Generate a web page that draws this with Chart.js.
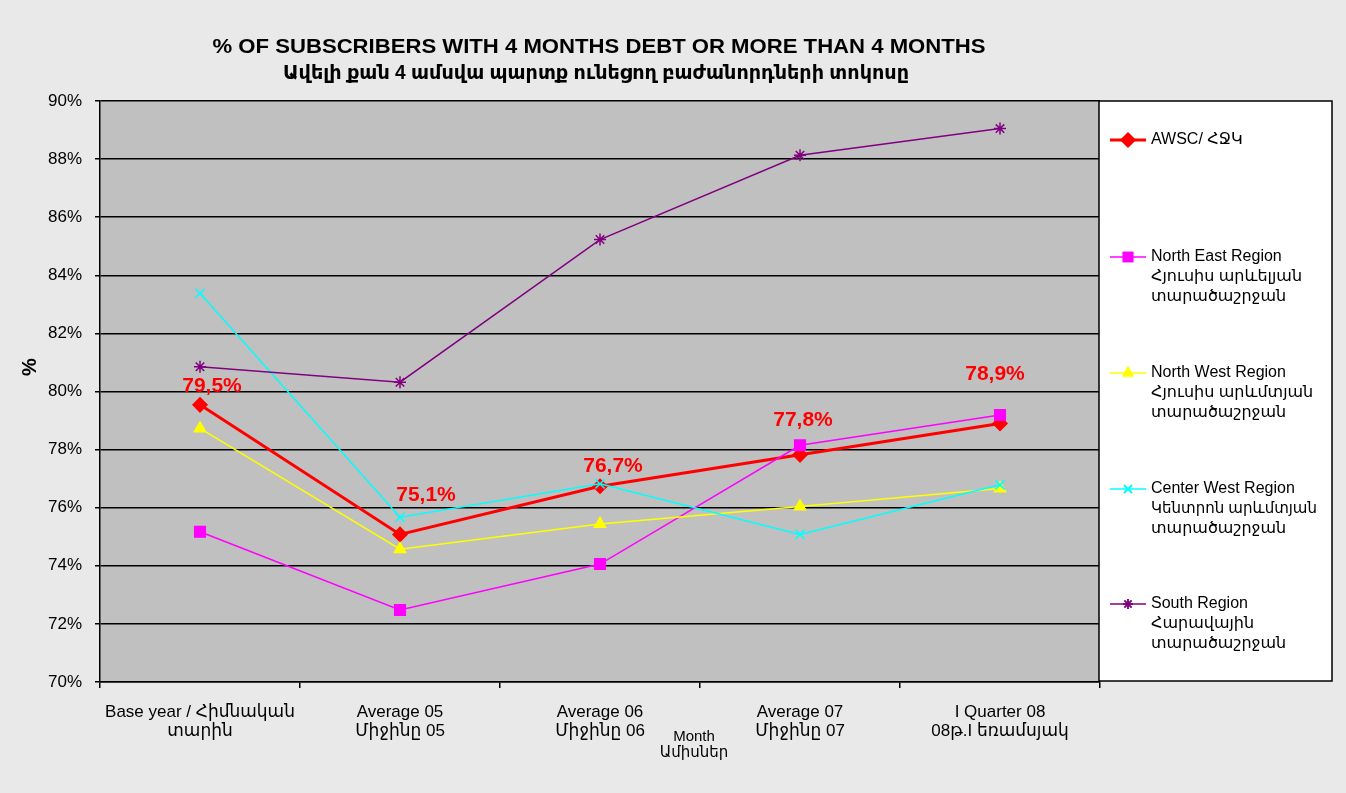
<!DOCTYPE html>
<html>
<head>
<meta charset="utf-8">
<title>% of subscribers with 4 months debt</title>
<script src="https://cdn.jsdelivr.net/npm/chart.js"></script>
<style>
  html, body { margin: 0; padding: 0; background: #e9e9e9; }
  #wrap { width: 1346px; height: 793px; }
</style>
</head>
<body>
<div id="wrap"><canvas id="debtChart" width="1346" height="793"></canvas></div>
<script>
// chart data
const categories = [
  ['Base year / Հիմնական', 'տարին'],
  ['Average 05', 'Միջինը 05'],
  ['Average 06', 'Միջինը 06'],
  ['Average 07', 'Միջինը 07'],
  ['I Quarter 08', '08թ.I եռամսյակ']
];
const awsc       = [79.54, 75.08, 76.74, 77.82, 78.9];
const northEast  = [75.17, 72.48, 74.06, 78.15, 79.19];
const northWest  = [78.73, 74.57, 75.44, 76.04, 76.66];
const centerWest = [83.38, 75.67, 76.82, 75.08, 76.79];
const south      = [80.85, 80.32, 85.23, 88.13, 89.05];
const yTicks = [70, 72, 74, 76, 78, 80, 82, 84, 86, 88, 90];

const seriesNames = [
  ['AWSC/ ՀՋԿ'],
  ['North East Region', 'Հյուսիս արևելյան', 'տարածաշրջան'],
  ['North West Region', 'Հյուսիս արևմտյան', 'տարածաշրջան'],
  ['Center West Region', 'Կենտրոն արևմտյան', 'տարածաշրջան'],
  ['South Region', 'Հարավային', 'տարածաշրջան']
];
const titleLines = [
  '% OF SUBSCRIBERS WITH 4 MONTHS DEBT OR MORE THAN 4 MONTHS',
  'Ավելի քան 4 ամսվա պարտք ունեցող բաժանորդների տոկոսը'
];

const FONT = '"Liberation Sans", Arial, "DejaVu Sans", sans-serif';

// offsets of the red value labels from their points
const labelOffsets = [[12, -19], [26, -39], [13, -20], [3, -35], [-5, -49]];

function fittedText(ctx, text, cx, cy, font, width) {
  ctx.save();
  ctx.font = font;
  const w = ctx.measureText(text).width;
  ctx.translate(cx, cy);
  ctx.scale(width / w, 1);
  ctx.textAlign = 'center';
  ctx.textBaseline = 'middle';
  ctx.fillText(text, 0, 0);
  ctx.restore();
}

const decorations = {
  id: 'decorations',
  beforeDraw(chart) {
    const ctx = chart.ctx;
    const a = chart.chartArea;
    ctx.save();
    ctx.fillStyle = '#e9e9e9';
    ctx.fillRect(0, 0, chart.width, chart.height);
    ctx.fillStyle = '#c0c0c0';
    ctx.fillRect(a.left, a.top, a.right - a.left, a.bottom - a.top);
    ctx.restore();
  },
  afterDatasetsDraw(chart) {
    const ctx = chart.ctx;
    const a = chart.chartArea;

    // title
    ctx.save();
    ctx.fillStyle = '#000';
    fittedText(ctx, titleLines[0], 599, 47, 'bold 21px ' + FONT, 773);
    fittedText(ctx, titleLines[1], 596, 73, 'bold 20px ' + FONT, 626);

    // y axis title
    ctx.translate(30, 367);
    ctx.rotate(-Math.PI / 2);
    ctx.font = 'bold 20px ' + FONT;
    ctx.textAlign = 'center';
    ctx.textBaseline = 'middle';
    ctx.fillText('%', 0, 0);
    ctx.restore();

    // x axis title
    ctx.save();
    ctx.fillStyle = '#000';
    ctx.font = '15px ' + FONT;
    ctx.textAlign = 'center';
    ctx.textBaseline = 'middle';
    ctx.fillText('Month', 694, 737);
    ctx.fillText('Ամիսներ', 694, 753);
    ctx.restore();

    // value labels on the AWSC series
    const meta = chart.getDatasetMeta(0);
    ctx.save();
    ctx.fillStyle = '#ff0000';
    ctx.font = 'bold 21px ' + FONT;
    ctx.textAlign = 'center';
    ctx.textBaseline = 'middle';
    meta.data.forEach((pt, i) => {
      const txt = awsc[i].toFixed(1).replace('.', ',') + '%';
      ctx.fillText(txt, pt.x + labelOffsets[i][0], pt.y + labelOffsets[i][1]);
    });
    ctx.restore();

    // legend box
    const lx = a.right - 1, ly = a.top, lw = 233, lh = a.bottom - a.top - 1;
    ctx.save();
    ctx.fillStyle = '#ffffff';
    ctx.fillRect(lx, ly, lw, lh);
    ctx.strokeStyle = '#000';
    ctx.lineWidth = 1.5;
    ctx.strokeRect(lx, ly, lw, lh);
    const rowY = [140, 257, 373, 489, 604];
    chart.data.datasets.forEach((ds, i) => {
      const y = rowY[i];
      ctx.strokeStyle = ds.borderColor;
      ctx.lineWidth = ds.borderWidth;
      ctx.beginPath();
      ctx.moveTo(1110, y);
      ctx.lineTo(1146, y);
      ctx.stroke();
      Chart.helpers.drawPoint(ctx, {
        pointStyle: ds.pointStyle,
        radius: ds.pointRadius - 1,
        rotation: 0,
        borderWidth: ds.pointBorderWidth
      }, 1128, y);
      ctx.fillStyle = ds.pointBackgroundColor;
      ctx.strokeStyle = ds.pointBorderColor;
      ctx.lineWidth = ds.pointBorderWidth;
      if (ds.pointStyle !== 'crossRot' && ds.pointStyle !== 'star') ctx.fill();
      ctx.stroke();
      ctx.fillStyle = '#000';
      ctx.font = '16px ' + FONT;
      ctx.textAlign = 'left';
      ctx.textBaseline = 'middle';
      seriesNames[i].forEach((line, j) => {
        const w = ctx.measureText(line).width;
        ctx.save();
        ctx.translate(1151, y + j * 20);
        if (w > 166) ctx.scale(166 / w, 1);
        ctx.fillText(line, 0, 0);
        ctx.restore();
      });
    });
    ctx.restore();
  }
};

function series(label, data, color, width, style, radius, order) {
  return {
    label: label,
    data: data,
    borderColor: color,
    backgroundColor: color,
    borderWidth: width,
    pointStyle: style,
    pointRadius: radius,
    pointHoverRadius: radius,
    pointBackgroundColor: color,
    pointBorderColor: color,
    pointBorderWidth: 1.5,
    tension: 0,
    order: order
  };
}

window.addEventListener('DOMContentLoaded', () => {
  const ctx = document.getElementById('debtChart').getContext('2d');
  new Chart(ctx, {
    type: 'line',
    data: {
      labels: categories,
      datasets: [
        series(seriesNames[0].join(' '), awsc, '#ff0000', 3, 'rectRot', 7, 5),
        series(seriesNames[1].join(' '), northEast, '#ff00ff', 1.5, 'rect', 7.5, 4),
        series(seriesNames[2].join(' '), northWest, '#ffff00', 1.5, 'triangle', 6.5, 3),
        series(seriesNames[3].join(' '), centerWest, '#00ffff', 1.5, 'crossRot', 6.5, 2),
        series(seriesNames[4].join(' '), south, '#800080', 1.5, 'star', 6, 1)
      ]
    },
    options: {
      responsive: false,
      animation: false,
      layout: { padding: { left: 0, top: 101, right: 246, bottom: 51 } },
      plugins: {
        legend: { display: false },
        title: { display: false },
        tooltip: { enabled: false }
      },
      scales: {
        x: {
          type: 'category',
          offset: true,
          afterFit: (s) => { s.height = 60; },
          grid: {
            offset: true,
            drawOnChartArea: false,
            drawTicks: true,
            tickLength: 6,
            color: '#000',
            lineWidth: 1.5
          },
          border: { display: true, color: '#000', width: 1.5 },
          ticks: {
            autoSkip: false,
            maxRotation: 0,
            minRotation: 0,
            padding: 15,
            color: '#000',
            font: { family: FONT, size: 17, lineHeight: 1.12 }
          }
        },
        y: {
          min: 70,
          max: 90,
          afterFit: (s) => { s.width = 100; },
          afterBuildTicks: (s) => { s.ticks = yTicks.map(v => ({ value: v })); },
          grid: {
            color: '#000',
            lineWidth: 1.5,
            tickLength: 5,
            drawTicks: true
          },
          border: { display: true, color: '#000', width: 1.5 },
          ticks: {
            padding: 13,
            color: '#000',
            font: { family: FONT, size: 17 },
            callback: (v) => v + '%'
          }
        }
      }
    },
    plugins: [decorations]
  });
});
</script>
</body>
</html>
